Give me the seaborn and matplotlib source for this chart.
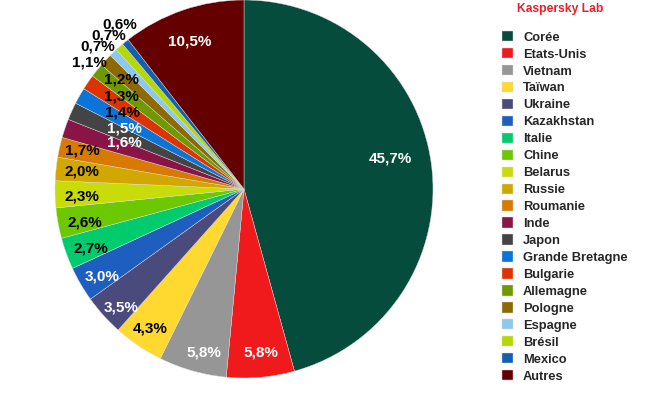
import numpy as np
import matplotlib
matplotlib.use("Agg")
import matplotlib.pyplot as plt
import seaborn as sns

# data
countries = ['Corée', 'Etats-Unis', 'Vietnam', 'Taïwan', 'Ukraine', 'Kazakhstan',
             'Italie', 'Chine', 'Belarus', 'Russie', 'Roumanie', 'Inde', 'Japon',
             'Grande Bretagne', 'Bulgarie', 'Allemagne', 'Pologne', 'Espagne',
             'Brésil', 'Mexico', 'Autres']
shares = [45.7, 5.8, 5.8, 4.3, 3.5, 3.0, 2.7, 2.6, 2.3, 2.0, 1.7, 1.6, 1.5,
          1.4, 1.3, 1.2, 1.1, 0.7, 0.7, 0.6, 10.5]

# style
colors = ['#064c3c', '#f01a1c', '#969696', '#ffd92f', '#4a4a7c', '#1e5ebe',
          '#00cc6e', '#6cc800', '#c8dc0a', '#d2a800', '#d87a00', '#8a1446',
          '#444444', '#0a74d8', '#dd3300', '#6e9a00', '#8c6a00', '#8cc8f0',
          '#b4d800', '#1460b0', '#640000']
label_colors = ['white', 'white', 'white', 'black', 'white', 'white', 'black',
                'black', 'black', 'black', 'black', 'white', 'white', 'black',
                'black', 'black', 'black', 'black', 'black', 'black', 'white']
label_r = [0.79, 0.87, 0.89, 0.89, 0.90, 0.88, 0.87, 0.86, 0.86, 0.86, 0.88,
           0.68, 0.71, 0.76, 0.81, 0.87, 1.06, 1.08, 1.08, 1.09, 0.83]
label_da = [4.0, 1.0, 2.0, 0.0, 2.0, 1.3, 1.3, 1.3, 0.9, 0.0, -0.7, -2.4,
            -2.5, -2.8, -2.6, -2.9, 3.7, 2.1, 0.2, -1.8, 1.3]

sns.set_theme(style='white')
plt.rcParams['font.family'] = ['Liberation Sans', 'DejaVu Sans']

fig = plt.figure(figsize=(6.5, 4), dpi=100)
ax = fig.add_axes([55 / 650, 22 / 400, 378 / 650, 378 / 400])

wedges, _ = ax.pie(shares, colors=colors, startangle=90, counterclock=False,
                   radius=1.0, wedgeprops={'linewidth': 0.3, 'edgecolor': '#dddddd'})
ax.set_xlim(-1, 1)
ax.set_ylim(-1, 1)
ax.set_aspect('equal')

for w, v, c, r, da in zip(wedges, shares, label_colors, label_r, label_da):
    ang = np.deg2rad((w.theta1 + w.theta2) / 2 + da)
    ax.text(r * np.cos(ang), r * np.sin(ang), f'{v:.1f}%'.replace('.', ','),
            ha='center', va='center', color=c, fontsize=11, fontweight='bold',
            clip_on=False)

fig.text(560 / 650, 1 - 9 / 400, 'Kaspersky Lab', color='#e8202a',
         fontsize=8.7, fontweight='bold', ha='center', va='center')

leg = fig.legend(wedges, countries, loc='upper left',
                 bbox_to_anchor=(502 / 650, 1 - 31 / 400),
                 frameon=False, fontsize=9.3, borderpad=0, borderaxespad=0,
                 handlelength=0.85, handleheight=0.85, handletextpad=0.78,
                 labelspacing=0.335)
for t in leg.get_texts():
    t.set_fontweight('bold')

fig.savefig('out.png', dpi=100)
